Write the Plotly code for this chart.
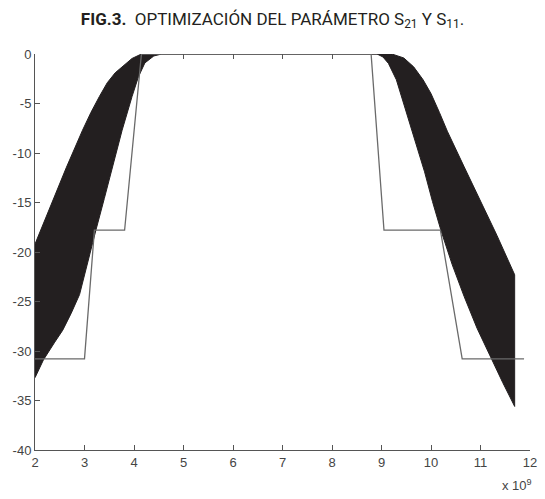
import plotly.graph_objects as go

# Mask (specification) line for S21 / S11
mask_x = [2.0, 3.0, 3.2, 3.81, 4.15, 8.79, 9.05, 10.19, 10.63, 11.88]
mask_y = [-30.8, -30.8, -17.8, -17.8, 0.0, 0.0, -17.8, -17.8, -30.8, -30.8]

# Upper envelope of the optimisation band (left rising edge, plateau, right outer edge)
band_upper_x = [2.0, 2.33, 2.63, 2.96, 3.13, 3.30, 3.46, 3.62, 3.76, 3.96, 4.15,
                9.21, 9.45, 9.65, 9.84, 10.0, 10.17, 10.33, 10.67, 11.0, 11.33, 11.69]
band_upper_y = [-19.2, -15.1, -11.5, -7.7, -5.9, -4.3, -2.9, -1.9, -1.3, -0.45, 0.0,
                0.0, -0.4, -1.3, -2.6, -4.0, -5.9, -7.8, -11.4, -14.9, -18.3, -22.3]

# Lower envelope of the band (left lower edge, plateau, right inner edge)
band_lower_x = [2.0, 2.17, 2.40, 2.56, 2.73, 2.90, 3.06, 3.23, 3.40, 3.56, 3.76, 3.96,
                4.09, 4.22, 4.40, 4.56,
                8.91, 9.03, 9.14, 9.30, 9.50, 9.70, 9.87, 10.03, 10.20, 10.43, 10.67,
                10.93, 11.20, 11.45, 11.69]
band_lower_y = [-32.7, -30.9, -29.1, -27.9, -26.2, -24.3, -21.0, -17.8, -14.6, -11.7, -7.7, -4.3,
                -2.3, -0.9, -0.2, 0.0,
                0.0, -0.3, -0.95, -2.6, -6.0, -9.2, -11.9, -14.9, -17.8, -21.3, -24.5,
                -27.7, -30.6, -33.2, -35.6]

x_ticks = [2, 3, 4, 5, 6, 7, 8, 9, 10, 11, 12]
y_ticks = [-40, -35, -30, -25, -20, -15, -10, -5, 0]
y_tick_text = ["-40", "-35", "-30", "-25", "-20", "-15", "-10", "-5", "0"]

poly_x = band_upper_x + band_lower_x[::-1]
poly_y = band_upper_y + band_lower_y[::-1]

fig = go.Figure()
fig.add_trace(go.Scatter(x=poly_x, y=poly_y, mode="lines", fill="toself",
                         fillcolor="#231f20", line=dict(color="#231f20", width=1),
                         hoverinfo="skip", showlegend=False))
fig.add_trace(go.Scatter(x=mask_x, y=mask_y, mode="lines",
                         line=dict(color="#6a6a6a", width=1.3),
                         showlegend=False))
# invisible trace for top tick axis
fig.add_trace(go.Scatter(x=[2, 12], y=[0, 0], mode="markers", marker=dict(opacity=0),
                         xaxis="x2", hoverinfo="skip", showlegend=False))

tick_font = dict(family="Liberation Sans, Arial, sans-serif", size=13, color="#444444")

fig.update_layout(
    width=545, height=499,
    paper_bgcolor="white", plot_bgcolor="white",
    margin=dict(l=35, r=8, t=54, b=49),
    title=dict(text="<b>FIG.3.</b>  OPTIMIZACIÓN DEL PARÁMETRO S<sub>21</sub> Y S<sub>11</sub>.",
               x=0.5, xanchor="center", y=0.962, yanchor="middle",
               font=dict(family="Roboto, sans-serif", size=17, color="#231f20")),
    xaxis=dict(range=[2, 12], tickvals=x_ticks,
               ticks="inside", ticklen=5, tickcolor="#555555", tickwidth=1,
               showline=True, linecolor="#555555", linewidth=1,
               showgrid=False, zeroline=False, tickfont=tick_font),
    xaxis2=dict(range=[2, 12], overlaying="x", side="top", anchor="y",
                tickvals=[5, 6, 7, 8], ticks="inside", ticklen=5,
                tickcolor="#555555", showticklabels=False, showline=False,
                showgrid=False, zeroline=False),
    yaxis=dict(range=[-40, 0], tickvals=y_ticks, ticktext=y_tick_text,
               ticks="inside", ticklen=5, tickcolor="#555555", tickwidth=1,
               showline=True, linecolor="#555555", linewidth=1,
               showgrid=False, zeroline=False, tickfont=tick_font),
    annotations=[dict(text="x 10<sup>9</sup>", xref="paper", yref="paper",
                      x=1.0, y=-0.062, xanchor="right", yanchor="top", xshift=4,
                      showarrow=False, font=tick_font)],
)

fig.write_html("out.html")
